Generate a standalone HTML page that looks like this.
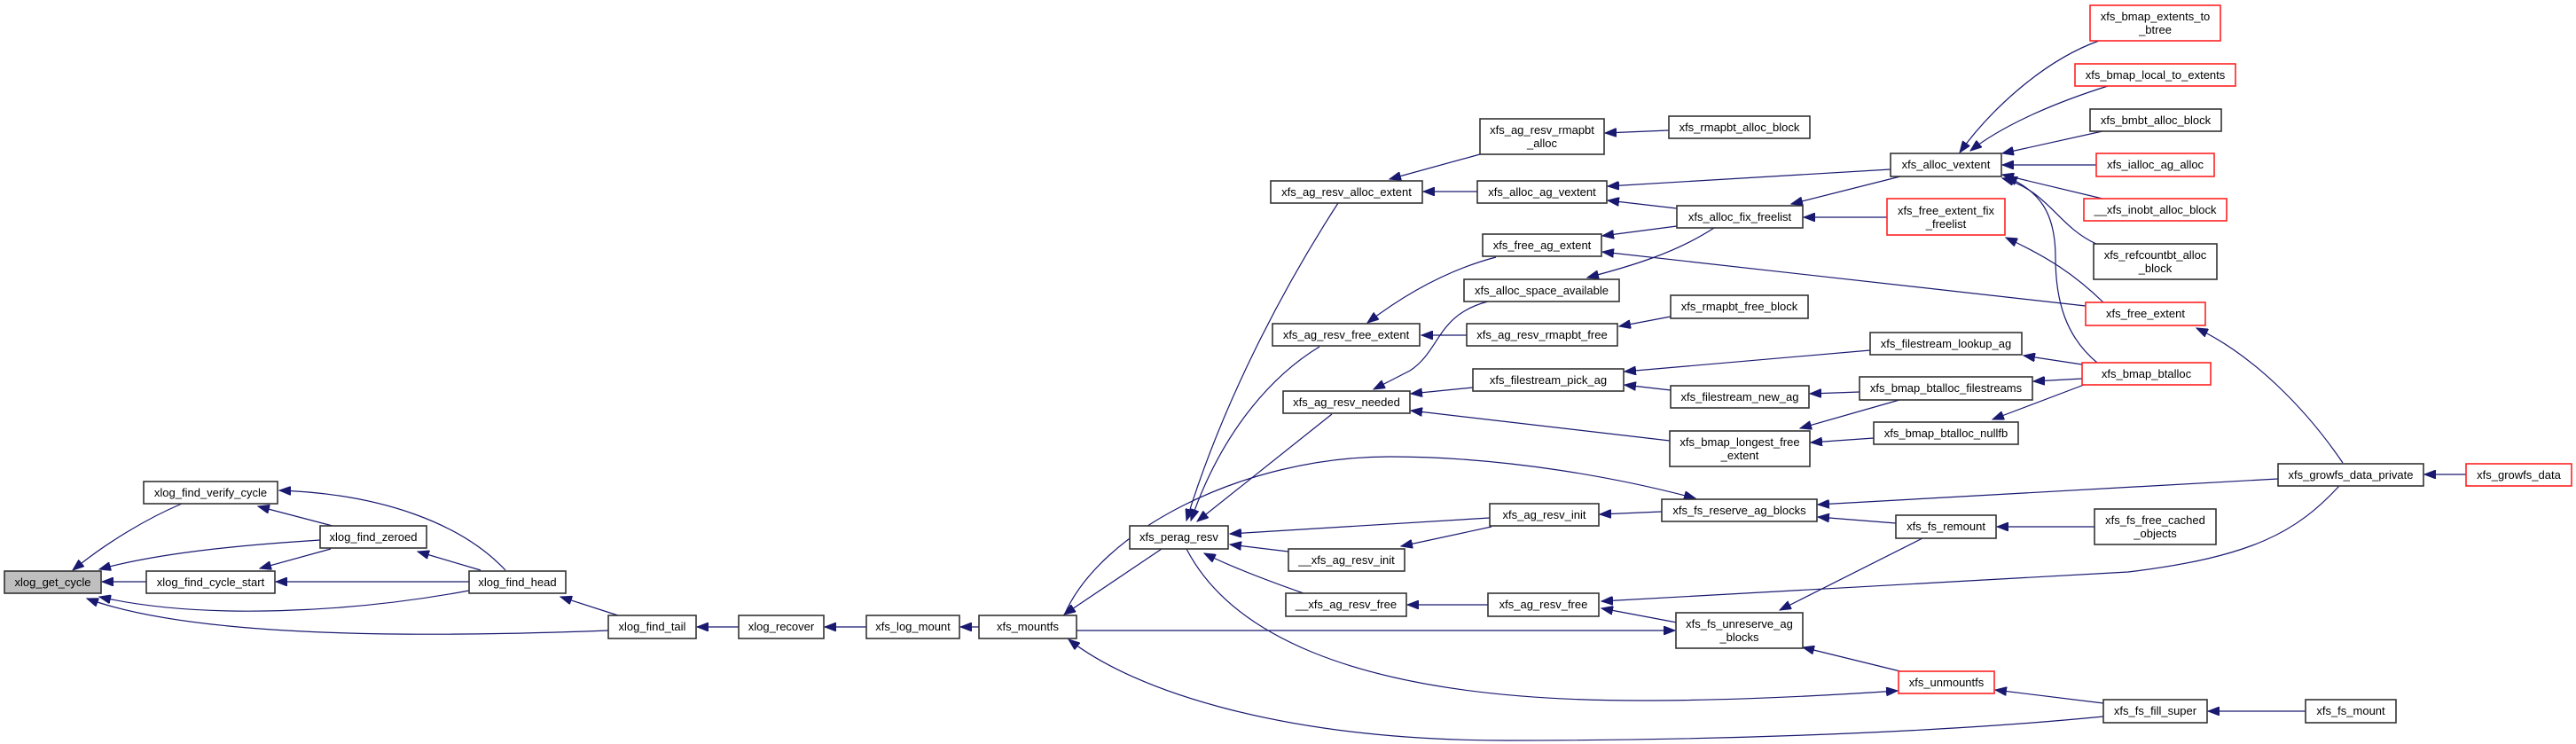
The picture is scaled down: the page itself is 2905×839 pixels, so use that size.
<!DOCTYPE html>
<html><head><meta charset="utf-8"><style>
html,body{margin:0;padding:0;background:#fff;}
svg{display:block;}
text{font-family:"Liberation Sans",Arial,sans-serif;font-size:13px;fill:#000;text-anchor:middle;}
.n{fill:#fff;stroke:#333;stroke-width:1.6;}
.r{fill:#fff;stroke:#f22;stroke-width:1.6;}
.g{fill:#bfbfbf;stroke:#333;stroke-width:1.6;}
path.e{fill:none;stroke:#191970;stroke-width:1.2;marker-end:url(#a);}
</style></head><body>
<svg width="2905" height="839" viewBox="0 0 2905 839" xmlns="http://www.w3.org/2000/svg">
<defs><marker id="a" markerUnits="userSpaceOnUse" markerWidth="14" markerHeight="10" refX="13" refY="5" orient="auto"><path d="M0,0 L13,5 L0,10 z" fill="#191970" stroke="#191970"/></marker></defs>

<!-- edges -->
<path class="e" d="M205,568 C165,585 120,612 82,643"/>
<path class="e" d="M361,609 C250,616 170,626 112,642"/>
<path class="e" d="M375,593 L291,571"/>
<path class="e" d="M165,656 L115,656"/>
<path class="e" d="M373,619 L293,641"/>
<path class="e" d="M570,643 C520,590 430,557 315,553"/>
<path class="e" d="M542,643 L471,622"/>
<path class="e" d="M529,656 L311,656"/>
<path class="e" d="M529,666 C400,690 230,700 112,673"/>
<path class="e" d="M697,694 L632,673"/>
<path class="e" d="M686,711 C400,722 200,712 98,675"/>
<path class="e" d="M833,707 L786,707"/>
<path class="e" d="M977,707 L930,707"/>
<path class="e" d="M1104,707 L1083,707"/>
<path class="e" d="M1310,619 L1200,693"/>
<path class="e" d="M1200,694 C1240,600 1400,515 1567,515 C1700,515 1830,540 1912,562"/>
<path class="e" d="M1214,711 L1889,711"/>
<path class="e" d="M2372,808 C2200,825 1950,835 1700,835 C1450,835 1280,780 1205,721"/>
<path class="e" d="M1338,619 C1380,700 1500,790 1850,790 C1950,790 2050,785 2140,779"/>
<path class="e" d="M1509,229 C1450,320 1380,450 1338,587"/>
<path class="e" d="M1488,391 C1440,420 1380,480 1343,587"/>
<path class="e" d="M1502,467 L1350,588"/>
<path class="e" d="M1680,584 L1387,602"/>
<path class="e" d="M1453,622 L1387,614"/>
<path class="e" d="M1470,669 C1430,655 1390,640 1358,624"/>
<path class="e" d="M1682,594 L1580,616"/>
<path class="e" d="M1678,682 L1587,682"/>
<path class="e" d="M1891,702 L1806,686"/>
<path class="e" d="M2638,548 C2590,600 2540,628 2400,645 L1806,678"/>
<path class="e" d="M1874,577 L1804,580"/>
<path class="e" d="M2569,540 L2050,569"/>
<path class="e" d="M2138,590 L2050,583"/>
<path class="e" d="M2168,607 L2007,688"/>
<path class="e" d="M2143,757 L2033,730"/>
<path class="e" d="M2362,594 L2252,594"/>
<path class="e" d="M2372,793 L2250,778"/>
<path class="e" d="M2600,802 L2490,802"/>
<path class="e" d="M2781,535 L2734,535"/>
<path class="e" d="M2642,522 C2600,460 2540,400 2477,370"/>
<!-- alloc group -->
<path class="e" d="M1669,174 L1567,202"/>
<path class="e" d="M1666,216 L1605,216"/>
<path class="e" d="M1882,147 L1810,150"/>
<path class="e" d="M2132,191 L1813,210"/>
<path class="e" d="M1891,235 L1813,226"/>
<path class="e" d="M1891,255 L1807,266"/>
<path class="e" d="M2352,345 L1807,284"/>
<path class="e" d="M1933,257 C1890,285 1840,300 1790,313"/>
<path class="e" d="M1687,290 C1630,305 1580,335 1542,364"/>
<path class="e" d="M1678,340 C1620,355 1625,395 1590,418 L1549,439"/>
<path class="e" d="M1654,378 L1603,378"/>
<path class="e" d="M1884,357 L1826,368"/>
<path class="e" d="M1661,437 L1591,444"/>
<path class="e" d="M1883,497 L1591,463"/>
<path class="e" d="M2109,395 L1832,419"/>
<path class="e" d="M1884,440 L1832,434"/>
<path class="e" d="M2348,411 L2282,401"/>
<path class="e" d="M2348,427 L2293,430"/>
<path class="e" d="M2350,434 L2247,473"/>
<path class="e" d="M2097,442 L2041,444"/>
<path class="e" d="M2142,451 L2030,483"/>
<path class="e" d="M2113,494 L2042,499"/>
<path class="e" d="M2367,46 C2300,70 2240,130 2210,172"/>
<path class="e" d="M2377,97 C2320,115 2260,140 2222,170"/>
<path class="e" d="M2371,148 L2258,173"/>
<path class="e" d="M2364,186 L2258,186"/>
<path class="e" d="M2371,224 L2258,197"/>
<path class="e" d="M2364,275 C2320,255 2310,215 2258,201"/>
<path class="e" d="M2365,409 C2330,380 2318,340 2318,290 C2318,240 2300,215 2262,199"/>
<path class="e" d="M2372,341 C2340,310 2310,290 2262,268"/>
<path class="e" d="M2143,199 L2020,230"/>
<path class="e" d="M2128,245 L2034,245"/>

<!-- nodes -->
<rect class="g" x="5" y="644" width="109" height="25"/><text x="59.5" y="661">xlog_get_cycle</text>
<rect class="n" x="162" y="543" width="151" height="25"/><text x="237.5" y="560">xlog_find_verify_cycle</text>
<rect class="n" x="361" y="593" width="120" height="25"/><text x="421" y="610">xlog_find_zeroed</text>
<rect class="n" x="165" y="644" width="145" height="25"/><text x="237.5" y="661">xlog_find_cycle_start</text>
<rect class="n" x="529" y="644" width="109" height="25"/><text x="583.5" y="661">xlog_find_head</text>
<rect class="n" x="686" y="694" width="99" height="26"/><text x="735.5" y="711">xlog_find_tail</text>
<rect class="n" x="833" y="694" width="96" height="26"/><text x="881" y="711">xlog_recover</text>
<rect class="n" x="977" y="694" width="105" height="26"/><text x="1029.5" y="711">xfs_log_mount</text>
<rect class="n" x="1104" y="694" width="110" height="26"/><text x="1159" y="711">xfs_mountfs</text>
<rect class="n" x="1274" y="593" width="111" height="26"/><text x="1329.5" y="610">xfs_perag_resv</text>
<rect class="n" x="1453" y="619" width="131" height="25"/><text x="1518.5" y="636">__xfs_ag_resv_init</text>
<rect class="n" x="1450" y="669" width="136" height="26"/><text x="1518" y="686">__xfs_ag_resv_free</text>
<rect class="n" x="1447" y="441" width="143" height="25"/><text x="1518.5" y="458">xfs_ag_resv_needed</text>
<rect class="n" x="1435" y="365" width="166" height="25"/><text x="1518" y="382">xfs_ag_resv_free_extent</text>
<rect class="n" x="1433" y="204" width="171" height="25"/><text x="1518.5" y="221">xfs_ag_resv_alloc_extent</text>
<rect class="n" x="1669" y="134" width="140" height="40"/><text x="1739" y="151">xfs_ag_resv_rmapbt</text><text x="1739" y="166">_alloc</text>
<rect class="n" x="1666" y="204" width="146" height="25"/><text x="1739" y="221">xfs_alloc_ag_vextent</text>
<rect class="n" x="1672" y="264" width="134" height="25"/><text x="1739" y="281">xfs_free_ag_extent</text>
<rect class="n" x="1651" y="315" width="175" height="25"/><text x="1738.5" y="332">xfs_alloc_space_available</text>
<rect class="n" x="1654" y="365" width="170" height="25"/><text x="1739" y="382">xfs_ag_resv_rmapbt_free</text>
<rect class="n" x="1661" y="416" width="170" height="25"/><text x="1746" y="433">xfs_filestream_pick_ag</text>
<rect class="n" x="1680" y="568" width="123" height="25"/><text x="1741.5" y="585">xfs_ag_resv_init</text>
<rect class="n" x="1678" y="669" width="125" height="26"/><text x="1740.5" y="686">xfs_ag_resv_free</text>
<rect class="n" x="1882" y="131" width="159" height="25"/><text x="1961.5" y="148">xfs_rmapbt_alloc_block</text>
<rect class="n" x="1891" y="232" width="142" height="25"/><text x="1962" y="249">xfs_alloc_fix_freelist</text>
<rect class="n" x="1884" y="333" width="155" height="26"/><text x="1961.5" y="350">xfs_rmapbt_free_block</text>
<rect class="n" x="1884" y="435" width="156" height="25"/><text x="1962" y="452">xfs_filestream_new_ag</text>
<rect class="n" x="1883" y="486" width="158" height="40"/><text x="1962" y="503">xfs_bmap_longest_free</text><text x="1962" y="518">_extent</text>
<rect class="n" x="1874" y="563" width="175" height="25"/><text x="1961.5" y="580">xfs_fs_reserve_ag_blocks</text>
<rect class="n" x="1890" y="691" width="143" height="40"/><text x="1961.5" y="708">xfs_fs_unreserve_ag</text><text x="1961.5" y="723">_blocks</text>
<rect class="n" x="2132" y="173" width="125" height="26"/><text x="2194.5" y="190">xfs_alloc_vextent</text>
<rect class="r" x="2128" y="224" width="133" height="41"/><text x="2194.5" y="242">xfs_free_extent_fix</text><text x="2194.5" y="257">_freelist</text>
<rect class="n" x="2109" y="375" width="171" height="25"/><text x="2194.5" y="392">xfs_filestream_lookup_ag</text>
<rect class="n" x="2097" y="425" width="195" height="26"/><text x="2194.5" y="442">xfs_bmap_btalloc_filestreams</text>
<rect class="n" x="2113" y="476" width="163" height="25"/><text x="2194.5" y="493">xfs_bmap_btalloc_nullfb</text>
<rect class="n" x="2138" y="581" width="113" height="26"/><text x="2194.5" y="598">xfs_fs_remount</text>
<rect class="r" x="2141" y="757" width="108" height="25"/><text x="2195" y="774">xfs_unmountfs</text>
<rect class="r" x="2357" y="6" width="147" height="40"/><text x="2430.5" y="23">xfs_bmap_extents_to</text><text x="2430.5" y="38">_btree</text>
<rect class="r" x="2340" y="72" width="181" height="25"/><text x="2430.5" y="89">xfs_bmap_local_to_extents</text>
<rect class="n" x="2357" y="123" width="148" height="25"/><text x="2431" y="140">xfs_bmbt_alloc_block</text>
<rect class="r" x="2364" y="173" width="133" height="26"/><text x="2430.5" y="190">xfs_ialloc_ag_alloc</text>
<rect class="r" x="2350" y="224" width="161" height="25"/><text x="2430.5" y="241">__xfs_inobt_alloc_block</text>
<rect class="n" x="2361" y="275" width="139" height="40"/><text x="2430.5" y="292">xfs_refcountbt_alloc</text><text x="2430.5" y="307">_block</text>
<rect class="r" x="2352" y="341" width="135" height="26"/><text x="2419.5" y="358">xfs_free_extent</text>
<rect class="r" x="2348" y="409" width="145" height="25"/><text x="2420.5" y="426">xfs_bmap_btalloc</text>
<rect class="n" x="2362" y="574" width="137" height="40"/><text x="2430.5" y="591">xfs_fs_free_cached</text><text x="2430.5" y="606">_objects</text>
<rect class="n" x="2372" y="789" width="117" height="26"/><text x="2430.5" y="806">xfs_fs_fill_super</text>
<rect class="n" x="2600" y="789" width="102" height="26"/><text x="2651" y="806">xfs_fs_mount</text>
<rect class="n" x="2569" y="523" width="164" height="25"/><text x="2651" y="540">xfs_growfs_data_private</text>
<rect class="r" x="2781" y="523" width="119" height="25"/><text x="2840.5" y="540">xfs_growfs_data</text>
</svg>
</body></html>
